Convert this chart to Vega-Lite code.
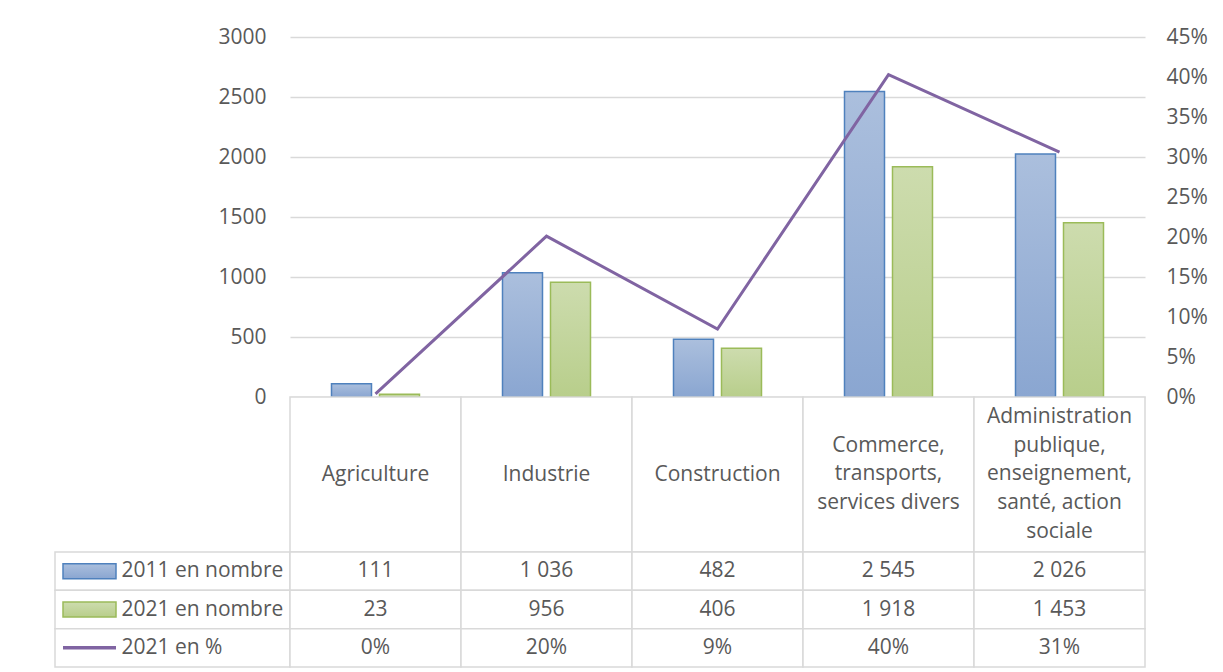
{
  "$schema": "https://vega.github.io/schema/vega-lite/v6.json",
  "background": "white",
  "padding": {"left": 54, "top": 26, "right": 5, "bottom": 5},
  "config": {
    "font": "Open Sans",
    "view": {"stroke": null},
    "locale": {"number": {"decimal": ",", "thousands": " ", "grouping": [3], "currency": ["", " €"], "percent": "%"}},
    "axis": {"labelFont": "Open Sans", "labelFontSize": 21, "labelColor": "#595959", "domain": false, "ticks": false, "title": null},
    "text": {"font": "Open Sans", "fontSize": 21, "color": "#595959"}
  },
  "spacing": 0,
  "columns": 2,
  "bounds": "flush",
  "align": "each",
  "data": {"values": [
    {"secteur": "Agriculture", "serie": "2011 en nombre", "valeur": 111},
    {"secteur": "Agriculture", "serie": "2021 en nombre", "valeur": 23},
    {"secteur": "Agriculture", "serie": "2021 en %", "valeur": 0.004},
    {"secteur": "Industrie", "serie": "2011 en nombre", "valeur": 1036},
    {"secteur": "Industrie", "serie": "2021 en nombre", "valeur": 956},
    {"secteur": "Industrie", "serie": "2021 en %", "valeur": 0.201},
    {"secteur": "Construction", "serie": "2011 en nombre", "valeur": 482},
    {"secteur": "Construction", "serie": "2021 en nombre", "valeur": 406},
    {"secteur": "Construction", "serie": "2021 en %", "valeur": 0.085},
    {"secteur": "Commerce,\ntransports,\nservices divers", "serie": "2011 en nombre", "valeur": 2545},
    {"secteur": "Commerce,\ntransports,\nservices divers", "serie": "2021 en nombre", "valeur": 1918},
    {"secteur": "Commerce,\ntransports,\nservices divers", "serie": "2021 en %", "valeur": 0.403},
    {"secteur": "Administration\npublique,\nenseignement,\nsanté, action\nsociale", "serie": "2011 en nombre", "valeur": 2026},
    {"secteur": "Administration\npublique,\nenseignement,\nsanté, action\nsociale", "serie": "2021 en nombre", "valeur": 1453},
    {"secteur": "Administration\npublique,\nenseignement,\nsanté, action\nsociale", "serie": "2021 en %", "valeur": 0.306}
  ]},
  "concat": [
    {"data": {"values": []}, "mark": "point", "width": 235, "height": 360},
    {
      "width": 855, "height": 360,
      "layer": [
        {"layer": [
          {
            "transform": [{"filter": "datum.serie === '2011 en nombre'"}],
            "mark": {"type": "bar", "fill": {"gradient": "linear", "x1": 0, "y1": 0, "x2": 0, "y2": 1, "stops": [{"offset": 0, "color": "#abbfdd"}, {"offset": 1, "color": "#8aa6d1"}]}, "stroke": "#4f81bd", "strokeWidth": 1.5},
            "encoding": {
              "x": {"field": "secteur", "type": "nominal", "sort": null, "scale": {"paddingInner": 0, "paddingOuter": 0}, "axis": null},
              "xOffset": {"field": "serie", "type": "nominal", "scale": {"domain": ["2011 en nombre", "2021 en nombre"], "paddingInner": 0.1667, "paddingOuter": 0.8646}},
              "y": {"field": "valeur", "type": "quantitative", "scale": {"domain": [0, 3000], "nice": false}, "axis": {"values": [0, 500, 1000, 1500, 2000, 2500, 3000], "format": "d", "grid": true, "gridColor": "#d9d9d9", "gridWidth": 1.5, "labelPadding": 24}}
            }
          },
          {
            "transform": [{"filter": "datum.serie === '2021 en nombre'"}],
            "mark": {"type": "bar", "fill": {"gradient": "linear", "x1": 0, "y1": 0, "x2": 0, "y2": 1, "stops": [{"offset": 0, "color": "#cddcae"}, {"offset": 1, "color": "#b8ce8b"}]}, "stroke": "#9bbb59", "strokeWidth": 1.5},
            "encoding": {
              "x": {"field": "secteur", "type": "nominal", "sort": null, "scale": {"paddingInner": 0, "paddingOuter": 0}, "axis": null},
              "xOffset": {"field": "serie", "type": "nominal", "scale": {"domain": ["2011 en nombre", "2021 en nombre"], "paddingInner": 0.1667, "paddingOuter": 0.8646}},
              "y": {"field": "valeur", "type": "quantitative"}
            }
          }
        ]},
        {
          "transform": [{"filter": "datum.serie === '2021 en %'"}],
          "mark": {"type": "line", "color": "#8064a2", "strokeWidth": 3},
          "encoding": {
            "x": {"field": "secteur", "type": "nominal", "sort": null, "scale": {"paddingInner": 0, "paddingOuter": 0}, "axis": null},
            "y": {"field": "valeur", "type": "quantitative", "scale": {"domain": [0, 0.45], "nice": false}, "axis": {"orient": "right", "values": [0, 0.05, 0.1, 0.15, 0.2, 0.25, 0.3, 0.35, 0.4, 0.45], "format": ".0%", "grid": false, "labelPadding": 21}}
          }
        }
      ],
      "resolve": {"scale": {"y": "independent"}}
    },
    {"data": {"values": []}, "mark": "point", "width": 235, "height": 155},
    {
      "width": 855, "height": 155,
      "transform": [{"filter": "datum.serie === '2011 en nombre'"}],
      "layer": [
        {
          "mark": {"type": "rect", "fill": "white", "stroke": "#d9d9d9", "strokeWidth": 1.5},
          "encoding": {"x": {"field": "secteur", "type": "nominal", "sort": null, "scale": {"paddingInner": 0, "paddingOuter": 0}, "axis": null}}
        },
        {
          "transform": [{"filter": "length(split(datum.secteur, '\\n')) === 1"}],
          "mark": {"type": "text", "lineBreak": "\n", "lineHeight": 28.7, "baseline": "middle", "align": "center"},
          "encoding": {
            "x": {"field": "secteur", "type": "nominal", "sort": null, "scale": {"paddingInner": 0, "paddingOuter": 0}, "axis": null},
            "text": {"field": "secteur", "type": "nominal"}
          }
        },
        {
          "transform": [{"filter": "length(split(datum.secteur, '\\n')) === 3"}],
          "mark": {"type": "text", "lineBreak": "\n", "lineHeight": 28.7, "baseline": "middle", "align": "center", "dy": -28.7},
          "encoding": {
            "x": {"field": "secteur", "type": "nominal", "sort": null, "scale": {"paddingInner": 0, "paddingOuter": 0}, "axis": null},
            "text": {"field": "secteur", "type": "nominal"}
          }
        },
        {
          "transform": [{"filter": "length(split(datum.secteur, '\\n')) === 5"}],
          "mark": {"type": "text", "lineBreak": "\n", "lineHeight": 28.7, "baseline": "middle", "align": "center", "dy": -57.4},
          "encoding": {
            "x": {"field": "secteur", "type": "nominal", "sort": null, "scale": {"paddingInner": 0, "paddingOuter": 0}, "axis": null},
            "text": {"field": "secteur", "type": "nominal"}
          }
        }
      ]
    },
    {
      "width": 235, "height": 115,
      "transform": [{"filter": "datum.secteur === 'Agriculture'"}],
      "layer": [
        {
          "mark": {"type": "rect", "fill": "white", "stroke": "#d9d9d9", "strokeWidth": 1.5},
          "encoding": {"y": {"field": "serie", "type": "nominal", "scale": {"domain": ["2011 en nombre", "2021 en nombre", "2021 en %"], "paddingInner": 0, "paddingOuter": 0}, "axis": null}}
        },
        {
          "transform": [{"filter": "datum.serie === '2011 en nombre'"}],
          "mark": {"type": "point", "shape": "M-109.5,-7.5H-56.5V7.5H-109.5Z", "size": 4, "filled": true, "opacity": 1, "fill": {"gradient": "linear", "x1": 0, "y1": 0, "x2": 0, "y2": 1, "stops": [{"offset": 0, "color": "#abbfdd"}, {"offset": 1, "color": "#8aa6d1"}]}, "stroke": "#4f81bd", "strokeWidth": 1.5},
          "encoding": {"y": {"field": "serie", "type": "nominal", "scale": {"domain": ["2011 en nombre", "2021 en nombre", "2021 en %"], "paddingInner": 0, "paddingOuter": 0}, "axis": null}}
        },
        {
          "transform": [{"filter": "datum.serie === '2021 en nombre'"}],
          "mark": {"type": "point", "shape": "M-109.5,-7.5H-56.5V7.5H-109.5Z", "size": 4, "filled": true, "opacity": 1, "fill": {"gradient": "linear", "x1": 0, "y1": 0, "x2": 0, "y2": 1, "stops": [{"offset": 0, "color": "#cddcae"}, {"offset": 1, "color": "#b8ce8b"}]}, "stroke": "#9bbb59", "strokeWidth": 1.5},
          "encoding": {"y": {"field": "serie", "type": "nominal", "scale": {"domain": ["2011 en nombre", "2021 en nombre", "2021 en %"], "paddingInner": 0, "paddingOuter": 0}, "axis": null}}
        },
        {
          "transform": [{"filter": "datum.serie === '2021 en %'"}],
          "mark": {"type": "point", "shape": "M-109.5,0H-56.5", "size": 4, "filled": false, "opacity": 1, "stroke": "#8064a2", "strokeWidth": 3.5},
          "encoding": {"y": {"field": "serie", "type": "nominal", "scale": {"domain": ["2011 en nombre", "2021 en nombre", "2021 en %"], "paddingInner": 0, "paddingOuter": 0}, "axis": null}}
        }
      ]
    },
    {
      "width": 855, "height": 115,
      "layer": [
        {
          "mark": {"type": "rect", "fill": "white", "stroke": "#d9d9d9", "strokeWidth": 1.5},
          "encoding": {
            "x": {"field": "secteur", "type": "nominal", "sort": null, "scale": {"paddingInner": 0, "paddingOuter": 0}, "axis": null},
            "y": {"field": "serie", "type": "nominal", "scale": {"domain": ["2011 en nombre", "2021 en nombre", "2021 en %"], "paddingInner": 0, "paddingOuter": 0}, "axis": {"orient": "left", "labelAlign": "left", "labelPadding": 169, "labelLimit": 0}}
          }
        },
        {
          "transform": [{"filter": "datum.serie !== '2021 en %'"}],
          "mark": {"type": "text", "baseline": "middle", "align": "center"},
          "encoding": {
            "x": {"field": "secteur", "type": "nominal", "sort": null, "scale": {"paddingInner": 0, "paddingOuter": 0}, "axis": null},
            "y": {"field": "serie", "type": "nominal", "scale": {"domain": ["2011 en nombre", "2021 en nombre", "2021 en %"], "paddingInner": 0, "paddingOuter": 0}, "axis": {"orient": "left", "labelAlign": "left", "labelPadding": 169, "labelLimit": 0}},
            "text": {"field": "valeur", "type": "quantitative", "format": ",d"}
          }
        },
        {
          "transform": [{"filter": "datum.serie === '2021 en %'"}],
          "mark": {"type": "text", "baseline": "middle", "align": "center"},
          "encoding": {
            "x": {"field": "secteur", "type": "nominal", "sort": null, "scale": {"paddingInner": 0, "paddingOuter": 0}, "axis": null},
            "y": {"field": "serie", "type": "nominal", "scale": {"domain": ["2011 en nombre", "2021 en nombre", "2021 en %"], "paddingInner": 0, "paddingOuter": 0}, "axis": {"orient": "left", "labelAlign": "left", "labelPadding": 169, "labelLimit": 0}},
            "text": {"field": "valeur", "type": "quantitative", "format": ".0%"}
          }
        }
      ]
    }
  ]
}
